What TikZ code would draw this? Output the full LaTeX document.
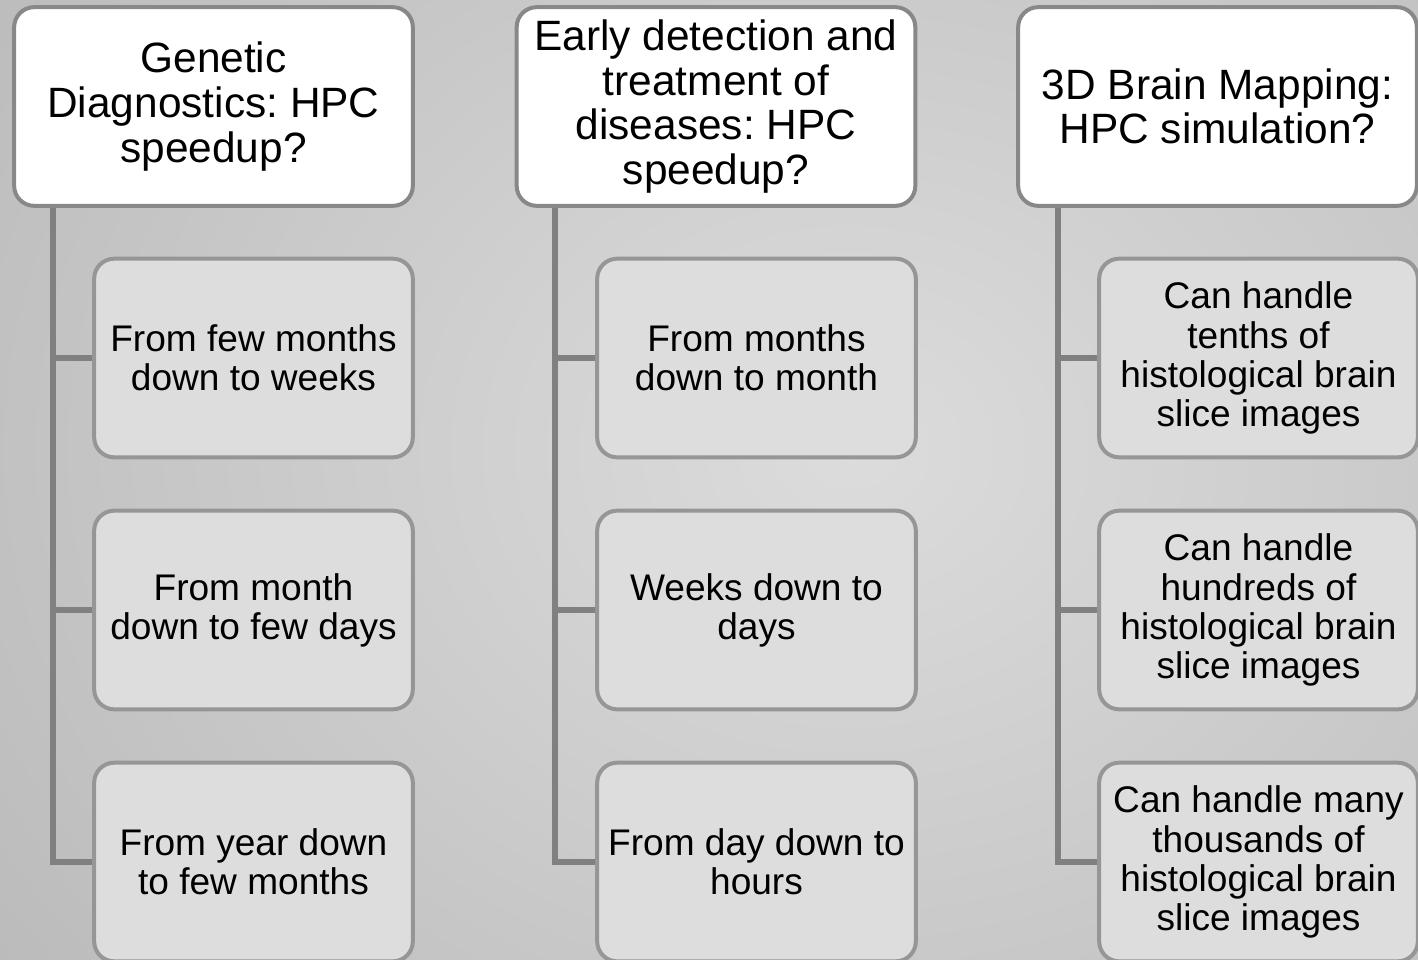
\documentclass[tikz,border=0pt]{standalone}
\usepackage{fontspec}
\setmainfont{Liberation Sans}
\frenchspacing
\definecolor{bgin}{RGB}{220,220,220}
\definecolor{bgout}{RGB}{184,184,184}
\definecolor{hborder}{RGB}{136,136,136}
\definecolor{cborder}{RGB}{150,150,150}
\definecolor{cfill}{RGB}{221,221,221}
\definecolor{conncol}{RGB}{128,128,128}
\pgfdeclarelayer{bgshade}
\pgfdeclarelayer{wires}
\pgfsetlayers{bgshade,wires,main}
\tikzset{
  headbox/.style={draw=hborder, line width=3pt, fill=white, rounded corners=15pt,
    minimum width=299pt, minimum height=149pt, inner sep=0pt, align=center,
    font=\fontsize{31.8}{33.5}\selectfont},
  childbox/.style={draw=cborder, line width=3pt, fill=cfill, rounded corners=15pt,
    minimum width=239pt, minimum height=149pt, inner sep=0pt, align=center,
    font=\fontsize{27.8}{29.3}\selectfont},
  conn/.style={draw=conncol, line width=4pt}
}
\begin{document}
\begin{tikzpicture}[x=0.75pt,y=-0.75pt]
\useasboundingbox (0,0) rectangle (1418,960);
\begin{pgfonlayer}{bgshade}
\shade[inner color=bgin, outer color=bgout] (-300,-500) rectangle (2000,1400);
\end{pgfonlayer}
% column 1
\node[headbox] (h1) at (213.5,106.5) {Genetic\\Diagnostics: HPC\\speedup?};
\node[childbox] (c11) at (253.5,358) {From few months\\down to weeks};
\node[childbox] (c12) at (253.5,610) {From month\\down to few days};
\node[childbox] (c13) at (253.5,862) {From year down\\to few months};
% column 2
\node[headbox] (h2) at (716,106.5) {Early detection and\\treatment of\\diseases: HPC\\speedup?};
\node[childbox] (c21) at (756.5,358) {From months\\down to month};
\node[childbox] (c22) at (756.5,610) {Weeks down to\\days};
\node[childbox] (c23) at (756.5,862) {From day down to\\hours};
% column 3
\node[headbox] (h3) at (1217.5,106.5) {3D Brain Mapping:\\HPC simulation?};
\node[childbox] (c31) at (1258.5,358) {Can handle\\tenths of\\histological brain\\slice images};
\node[childbox] (c32) at (1258.5,610) {Can handle\\hundreds of\\histological brain\\slice images};
\node[childbox] (c33) at (1258.5,862) {Can handle many\\thousands of\\histological brain\\slice images};
% connectors
\coordinate (t1) at (53,200);
\coordinate (t2) at (555,200);
\coordinate (t3) at (1058,200);
\begin{pgfonlayer}{wires}
\foreach \t/\c in {t1/c1,t2/c2,t3/c3}{
  \draw[conn] (\t) |- (\c3.west);
  \draw[conn] (\t |- \c1.west) -- (\c1.west);
  \draw[conn] (\t |- \c2.west) -- (\c2.west);
}
\end{pgfonlayer}
\end{tikzpicture}
\end{document}
